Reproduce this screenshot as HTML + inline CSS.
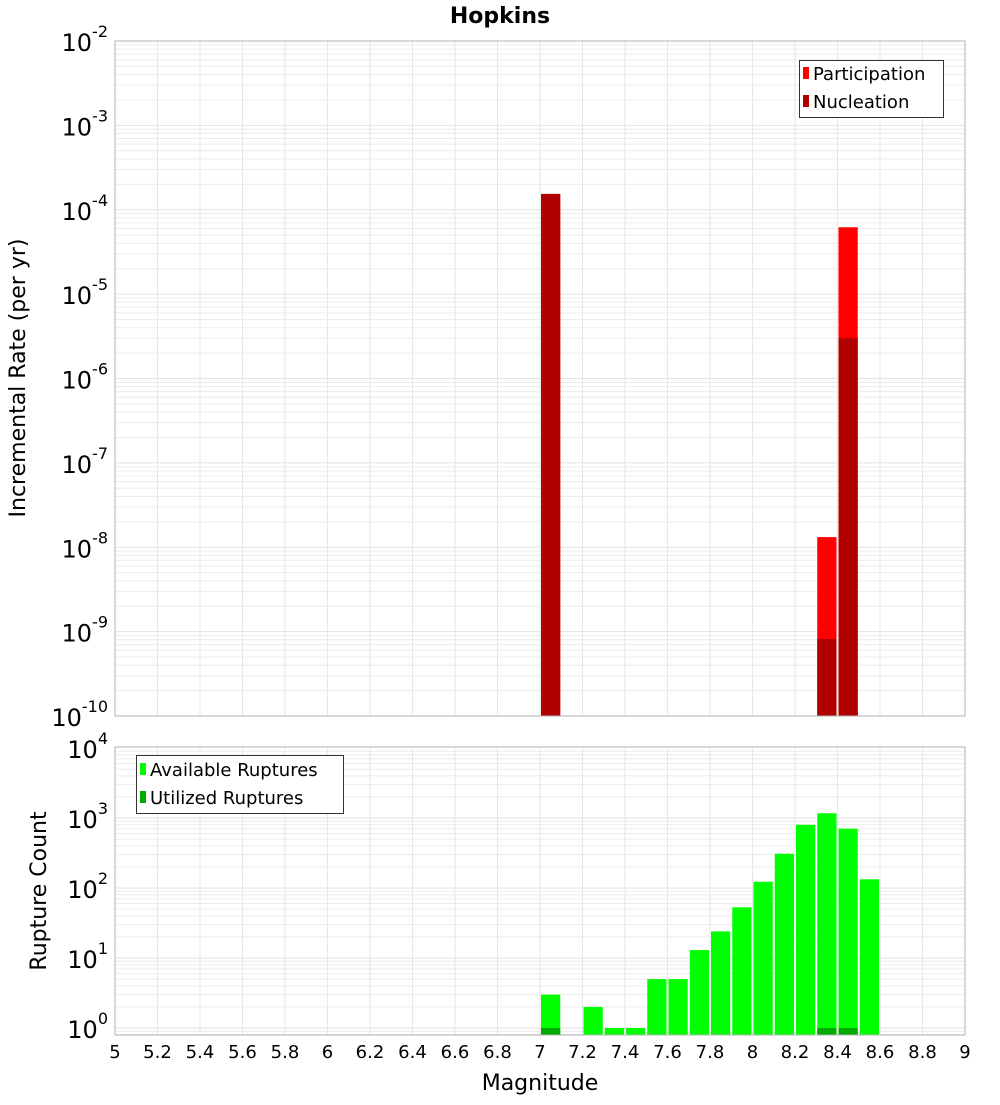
<!DOCTYPE html>
<html><head><meta charset="utf-8"><style>
body{margin:0;background:#fff;font-family:"Liberation Sans","DejaVu Sans",sans-serif}
svg text{font-family:"DejaVu Sans","Liberation Sans",sans-serif}
</style></head><body>
<svg id="c" width="1000" height="1100" xmlns="http://www.w3.org/2000/svg"></svg>
<script>
const mags=[7.05,8.35,8.45];
const participation=[1.54e-4,1.32e-8,6.2e-5];
const nucleation=[1.54e-4,8.2e-10,3.0e-6];
const countMags=[7.05,7.25,7.35,7.45,7.55,7.65,7.75,7.85,7.95,8.05,8.15,8.25,8.35,8.45,8.55];
const available=[3,2,1,1,5,5,13,24,53,123,309,800,1170,705,133];
const utilMags=[7.05,8.35,8.45];
const utilized=[1,1,1];
const xTicks=[5,5.2,5.4,5.6,5.8,6,6.2,6.4,6.6,6.8,7,7.2,7.4,7.6,7.8,8,8.2,8.4,8.6,8.8,9];
const topExps=[-2,-3,-4,-5,-6,-7,-8,-9,-10];
const botExps=[4,3,2,1,0];

const svg=document.getElementById('c');const NS='http://www.w3.org/2000/svg';
function el(t,a,p){const e=document.createElementNS(NS,t);for(const k in a)e.setAttribute(k,a[k]);(p||svg).appendChild(e);return e;}
const X0=115,X1=965;
const xs=m=>X0+(m-5)/4*(X1-X0);
const T0=41,T1=716;
const yT=v=>T0+(-2-Math.log10(v))*(T1-T0)/8;
const B0=747,B1=1035;
const yB=v=>1028-Math.log10(v)*70;

function grid(top,bot,ys,lo,hi){
  for(let e=lo;e<=hi;e++)for(let k=1;k<10;k++){const y=ys(k*Math.pow(10,e));if(y<top||y>bot)continue;
    const l=el('line',{x1:X0,x2:X1,y1:y,y2:y,stroke:k==1?'#e2e2e2':'#ececec','stroke-width':1});
    }
  xTicks.forEach(t=>{const l=el('line',{x1:xs(t),x2:xs(t),y1:top,y2:bot,stroke:'#e6e6e6'});
    });
}
grid(T0,T1,yT,-10,-3);
grid(B0,B1,yB,-1,3);
const bw=xs(5.1)-xs(5)-2;
function bar(m,v,ys,base,col,name){const x=xs(m)-bw/2;const y=ys(v);
  const r=el('rect',{x:x,y:y,width:bw,height:base-y,fill:col});
  }
mags.forEach((m,i)=>bar(m,participation[i],yT,T1,'#ff0000','participation-bar'));
mags.forEach((m,i)=>bar(m,nucleation[i],yT,T1,'#b00000','nucleation-bar'));
countMags.forEach((m,i)=>bar(m,available[i],yB,B1,'#00ff00','available-bar'));
utilMags.forEach((m,i)=>bar(m,utilized[i],yB,B1,'#00aa00','utilized-bar'));
// frames
let f=el('rect',{x:X0,y:T0,width:X1-X0,height:T1-T0,fill:'none',stroke:'#b0b0b0'});
f=el('rect',{x:X0,y:B0,width:X1-X0,height:B1-B0,fill:'none',stroke:'#b0b0b0'});
function ylab(e,y,name){const t=el('text',{x:108,y:y+10,'text-anchor':'end','font-size':24,fill:'#000'});
  
  t.textContent='10';const s=el('tspan',{dy:-14,'font-size':16},t);s.textContent=String(e);}
topExps.forEach(e=>ylab(e,yT(Math.pow(10,e)),'top-y-tick'));
botExps.forEach(e=>ylab(e,yB(Math.pow(10,e)),'bottom-y-tick'));
xTicks.forEach(t=>{const l=el('text',{x:xs(t),y:1058,'text-anchor':'middle','font-size':18});
  l.textContent=String(t);});
</script>
<svg style="position:absolute;left:0;top:0" width="1000" height="1100" xmlns="http://www.w3.org/2000/svg">
<text x="500" y="23" text-anchor="middle" font-size="22" font-weight="bold" font-family="DejaVu Sans,sans-serif">Hopkins</text>
<text transform="translate(25,378) rotate(-90)" text-anchor="middle" font-size="22" font-family="DejaVu Sans,sans-serif">Incremental Rate (per yr)</text>
<text transform="translate(46,891) rotate(-90)" text-anchor="middle" font-size="22" font-family="DejaVu Sans,sans-serif">Rupture Count</text>
<text x="540" y="1090" text-anchor="middle" font-size="22" font-family="DejaVu Sans,sans-serif">Magnitude</text>
<g font-family="DejaVu Sans,sans-serif" font-size="18">
<rect x="799.5" y="60.5" width="144" height="57" fill="#fff" stroke="#333"/>
<rect x="803" y="67" width="6" height="12" fill="#ff0000"/>
<text x="813" y="80">Participation</text>
<rect x="803" y="95" width="6" height="12" fill="#b00000"/>
<text x="813" y="108">Nucleation</text>
</g>
<g font-family="DejaVu Sans,sans-serif" font-size="18">
<rect x="136.5" y="755.5" width="207" height="58" fill="#fff" stroke="#333"/>
<rect x="140" y="763" width="6" height="12" fill="#00ff00"/>
<text x="150" y="776">Available Ruptures</text>
<rect x="140" y="791" width="6" height="12" fill="#00aa00"/>
<text x="150" y="804">Utilized Ruptures</text>
</g>
</svg>
</body></html>
